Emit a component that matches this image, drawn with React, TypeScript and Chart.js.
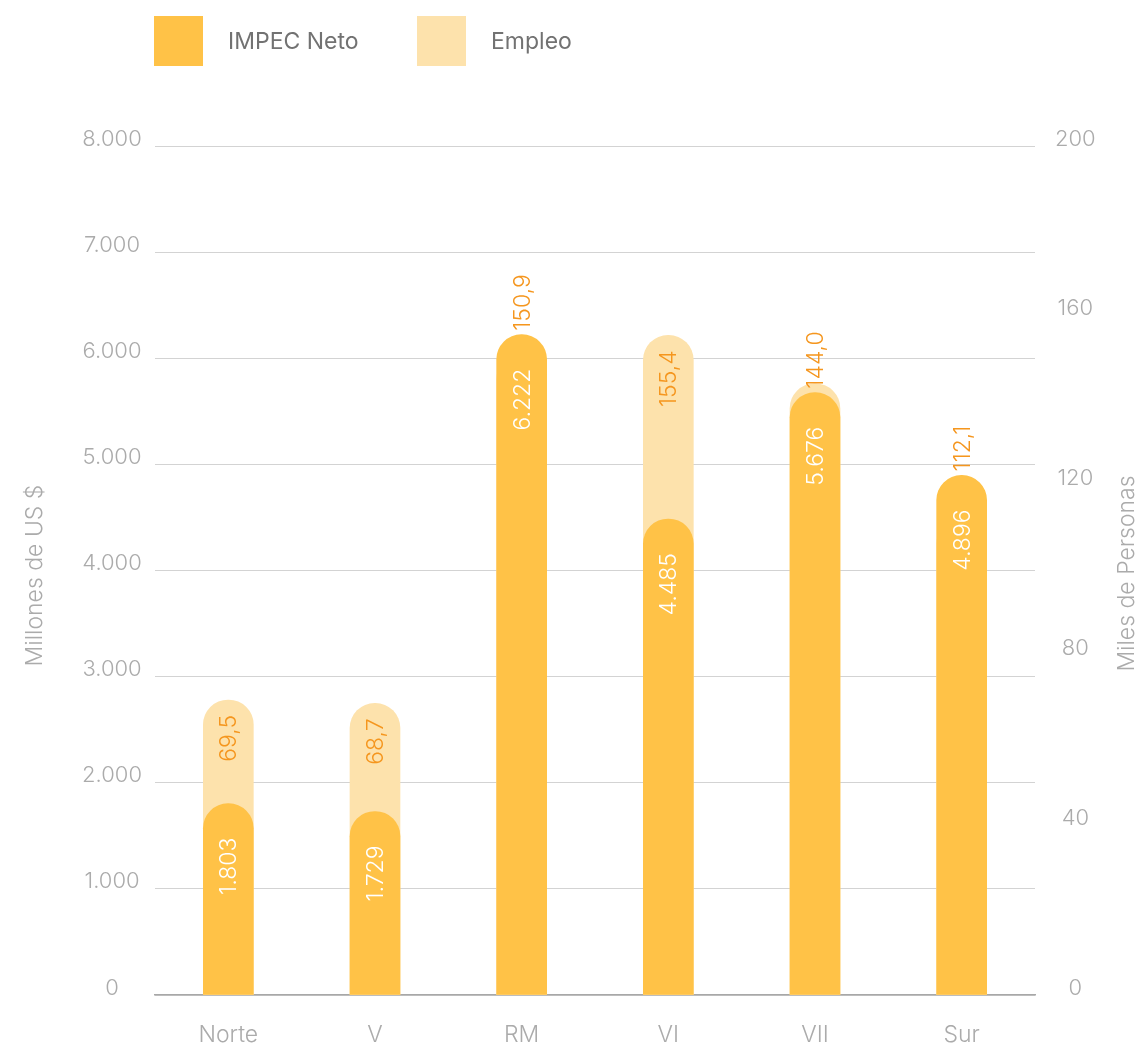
import React, { useEffect, useRef } from "react";
import { Chart, registerables } from "chart.js";

Chart.register(...registerables);

// ---- Data ----
const categories = ["Norte", "V", "RM", "VI", "VII", "Sur"];
const impecNeto = [1803, 1729, 6222, 4485, 5676, 4896]; // Millones de US $
const empleo = [69.5, 68.7, 150.9, 155.4, 144.0, 112.1]; // Miles de Personas
const seriesNames = ["IMPEC Neto", "Empleo"];
const leftAxisTitle = "Millones de US $";
const rightAxisTitle = "Miles de Personas";
const leftRange = [0, 8000];
const leftStep = 1000;
const rightRange = [0, 200];
const rightStep = 40;

// ---- Styles ----
const COLOR_IMPEC = "#FFC247";
const COLOR_EMPLEO = "#FDE2AC";
const COLOR_EMPLEO_LABEL = "#F5961E";
const COLOR_TICK = "#ABABAB";
const FONT = "Inter, Roboto, 'Open Sans', sans-serif";

const fmtThousands = (v: number) =>
  String(Math.round(v)).replace(/\B(?=(\d{3})+(?!\d))/g, ".");
const fmtDecimal = (v: number) => v.toFixed(1).replace(".", ",");

const valueLabels = {
  id: "valueLabels",
  afterDatasetsDraw(chart: any) {
    const ctx = chart.ctx as CanvasRenderingContext2D;
    const impMeta = chart.getDatasetMeta(0);
    const empMeta = chart.getDatasetMeta(1);
    ctx.save();
    ctx.font = `300 23px ${FONT}`;
    ctx.textBaseline = "middle";
    ctx.textAlign = "right";
    // Empleo labels
    empMeta.data.forEach((el: any, i: number) => {
      const text = fmtDecimal(empleo[i]);
      const w = ctx.measureText(text).width;
      const impTop = impMeta.data[i].y;
      const endY = Math.min(el.y + 15, impTop - 4 - w);
      ctx.save();
      ctx.fillStyle = COLOR_EMPLEO_LABEL;
      ctx.translate(el.x, endY);
      ctx.rotate(-Math.PI / 2);
      ctx.fillText(text, 0, 1);
      ctx.restore();
    });
    // IMPEC labels
    impMeta.data.forEach((el: any, i: number) => {
      const text = fmtThousands(impecNeto[i]);
      ctx.save();
      ctx.fillStyle = "#FFFFFF";
      ctx.translate(el.x, el.y + 34);
      ctx.rotate(-Math.PI / 2);
      ctx.fillText(text, 0, 1);
      ctx.restore();
    });
    ctx.restore();
  },
};

const axisTitles = {
  id: "axisTitles",
  afterDraw(chart: any) {
    const ctx = chart.ctx as CanvasRenderingContext2D;
    const area = chart.chartArea;
    const midY = (area.top + area.bottom) / 2;
    ctx.save();
    ctx.font = `300 23px ${FONT}`;
    ctx.fillStyle = COLOR_TICK;
    ctx.textAlign = "center";
    ctx.textBaseline = "middle";
    ctx.save();
    ctx.translate(35, midY + 5);
    ctx.rotate(-Math.PI / 2);
    ctx.fillText(leftAxisTitle, 0, 0);
    ctx.restore();
    ctx.save();
    ctx.translate(chart.width - 12, midY + 3);
    ctx.rotate(-Math.PI / 2);
    ctx.fillText(rightAxisTitle, 0, 0);
    ctx.restore();
    ctx.restore();
  },
};

export default function App() {
  const canvasRef = useRef<HTMLCanvasElement | null>(null);

  useEffect(() => {
    if (!canvasRef.current) return;
    const chart = new Chart(canvasRef.current, {
      type: "bar",
      data: {
        labels: categories,
        datasets: [
          {
            label: seriesNames[0],
            data: impecNeto,
            yAxisID: "y",
            backgroundColor: COLOR_IMPEC,
            borderRadius: 25,
            borderSkipped: "start",
            barThickness: 50,
            grouped: false,
            order: 0,
          } as any,
          {
            label: seriesNames[1],
            data: empleo,
            yAxisID: "y1",
            backgroundColor: COLOR_EMPLEO,
            borderRadius: 25,
            borderSkipped: "start",
            barThickness: 50,
            grouped: false,
            order: 1,
          } as any,
        ],
      },
      options: {
        responsive: false,
        animation: false,
        layout: { padding: { top: 146, left: 0, right: 0, bottom: 0 } },
        plugins: {
          legend: { display: false },
          tooltip: { enabled: false },
        },
        scales: {
          x: {
            grid: { display: false, drawTicks: false },
            border: { display: true, color: "#A8A8A8", width: 1.5 },
            ticks: {
              color: COLOR_TICK,
              font: { family: FONT, size: 23, weight: "300" },
              padding: 26,
            },
            afterFit(scale: any) {
              scale.height = 54;
            },
          },
          y: {
            position: "left",
            min: leftRange[0],
            max: leftRange[1],
            grid: { color: "#D3D3D3", lineWidth: 1, drawTicks: false },
            border: { display: false },
            ticks: {
              stepSize: leftStep,
              color: COLOR_TICK,
              font: { family: FONT, size: 22, weight: "300" },
              padding: 13,
              crossAlign: "center",
              labelOffset: -7,
              callback: (v: any) => fmtThousands(Number(v)),
            },
            afterFit(scale: any) {
              scale.width = 155;
            },
          },
          y1: {
            position: "right",
            min: rightRange[0],
            max: rightRange[1],
            grid: { display: false, drawTicks: false },
            border: { display: false },
            ticks: {
              stepSize: rightStep,
              color: COLOR_TICK,
              font: { family: FONT, size: 22, weight: "300" },
              padding: 20,
              crossAlign: "center",
              labelOffset: -7,
              callback: (v: any) => String(v),
            },
            afterFit(scale: any) {
              scale.width = 104;
            },
          },
        },
      } as any,
      plugins: [valueLabels, axisTitles],
    });
    return () => chart.destroy();
  }, []);

  const legendItem = (color: string, text: string, left: number) => (
    <div
      style={{
        position: "absolute",
        left,
        top: 16,
        height: 50,
        display: "flex",
        alignItems: "center",
      }}
    >
      <div style={{ width: 49, height: 50, background: color }} />
      <span
        style={{
          marginLeft: 25,
          fontFamily: FONT,
          fontSize: 23,
          color: "#727272",
          whiteSpace: "nowrap",
        }}
      >
        {text}
      </span>
    </div>
  );

  return (
    <div
      style={{
        position: "absolute",
        left: 0,
        top: 0,
        width: 1139,
        height: 1049,
        background: "#FFFFFF",
      }}
    >
      <canvas
        ref={canvasRef}
        width={1139}
        height={1049}
        style={{ position: "absolute", left: 0, top: 0, width: 1139, height: 1049 }}
      />
      {legendItem(COLOR_IMPEC, seriesNames[0], 154)}
      {legendItem(COLOR_EMPLEO, seriesNames[1], 417)}
    </div>
  );
}
